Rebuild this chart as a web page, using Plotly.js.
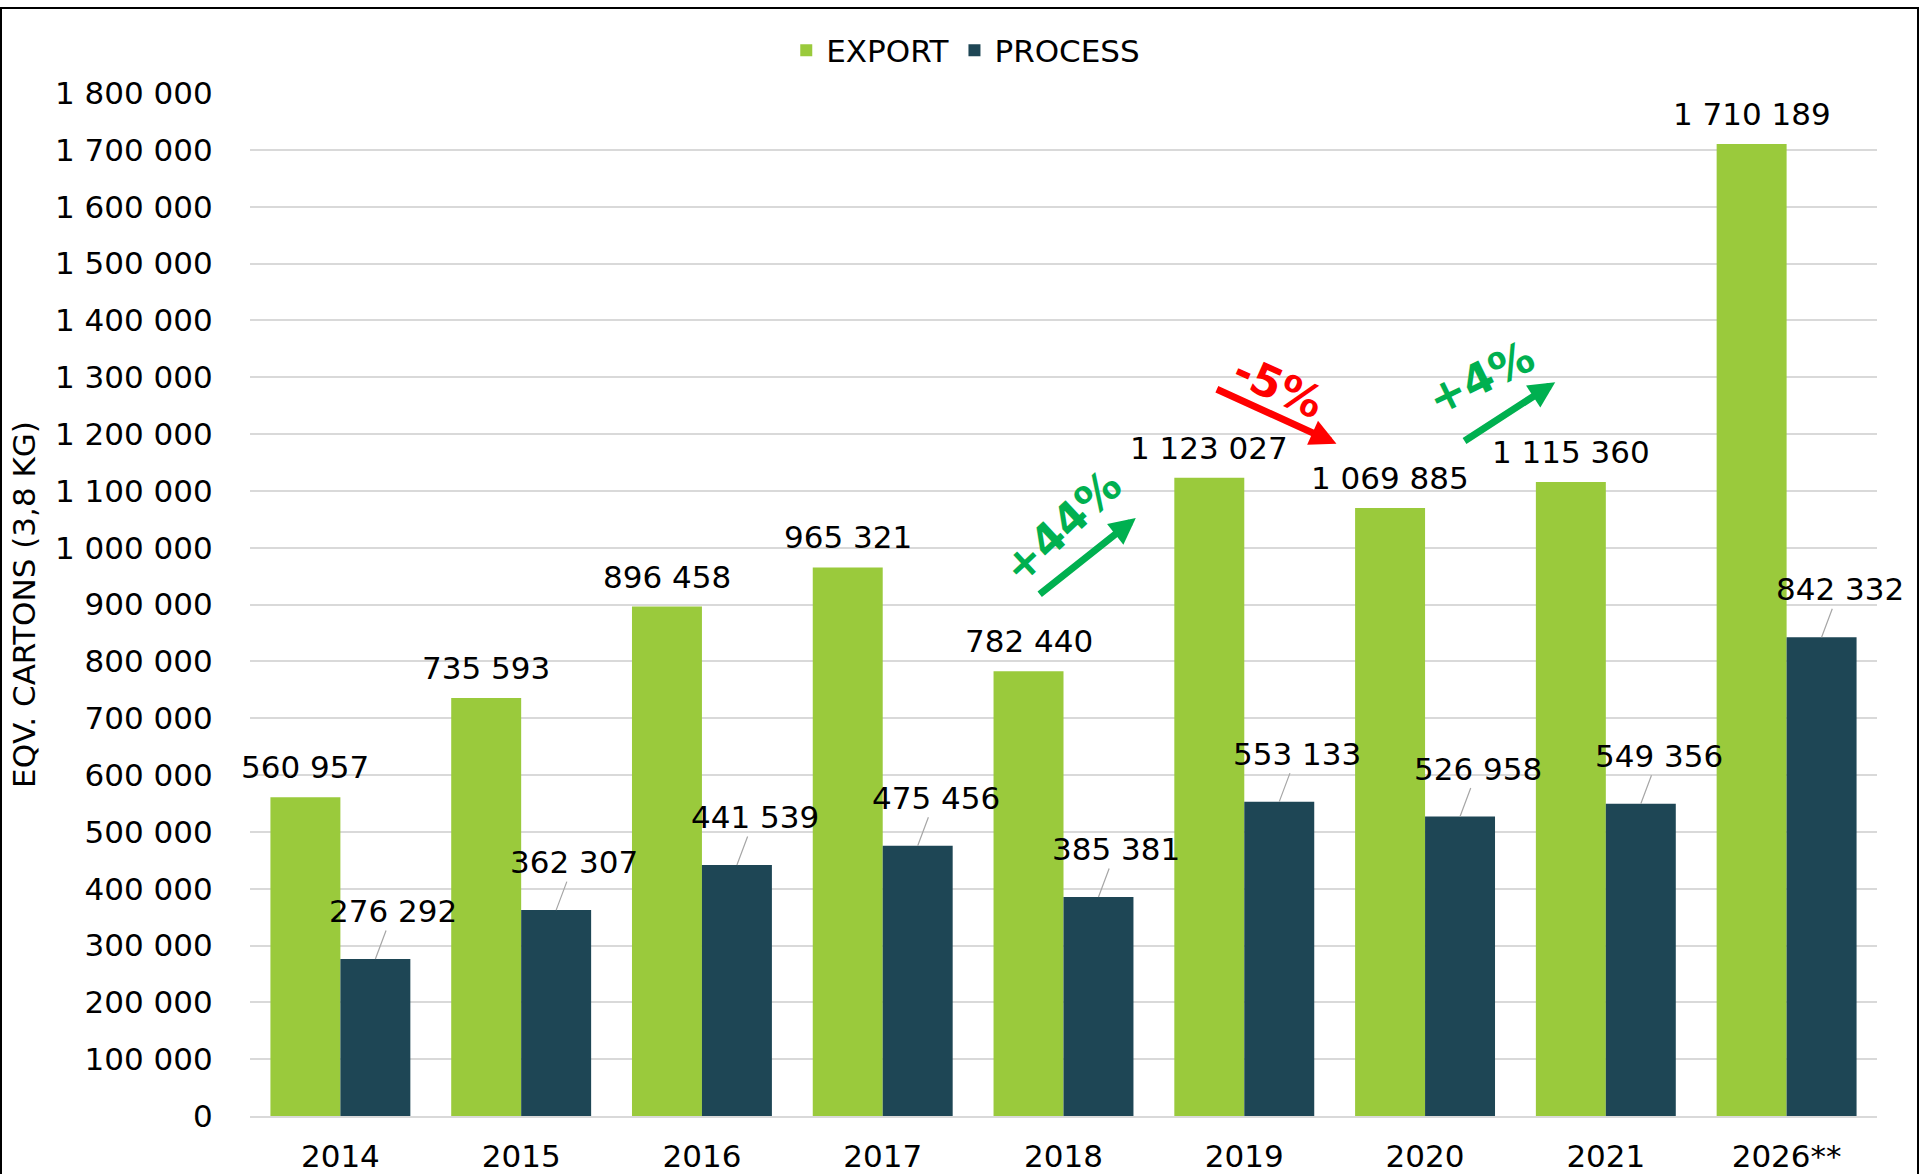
<!DOCTYPE html>
<html>
<head>
<meta charset="utf-8">
<script src="https://cdn.plot.ly/plotly-3.0.1.min.js"></script>
<style>
  html, body { margin: 0; padding: 0; background: #fff; }
  #chart { width: 1920px; height: 1174px; }
</style>
</head>
<body>
<div id="chart"></div>
<script>
// ---- data ----
const categories = ['2014', '2015', '2016', '2017', '2018', '2019', '2020', '2021', '2026**'];
const exportValues = [560957, 735593, 896458, 965321, 782440, 1123027, 1069885, 1115360, 1710189];
const processValues = [276292, 362307, 441539, 475456, 385381, 553133, 526958, 549356, 842332];
const seriesNames = ['EXPORT', 'PROCESS'];
const yAxisTitle = 'EQV. CARTONS (3,8 KG)';

// change markers
const changeLabels = ['+44%', '-5%', '+4%'];
const changeColors = ['#00B050', '#FF0000', '#00B050'];

// ---- styling ----
const FONT = 'DejaVu Sans, sans-serif';
const GREEN = '#9ACA3C';
const TEAL = '#1E4655';
const bargap = 0.226;
const halfBar = (1 - bargap) / 4;   // offset of each bar centre from category centre

const fmt = v => String(v).replace(/\B(?=(\d{3})+(?!\d))/g, ' ');

const traces = [
  { type: 'bar', name: seriesNames[0], x: categories, y: exportValues,
    marker: { color: GREEN }, hoverinfo: 'x+y' },
  { type: 'bar', name: seriesNames[1], x: categories, y: processValues,
    marker: { color: TEAL }, hoverinfo: 'x+y' }
];

const annotations = [];
categories.forEach((c, i) => {
  annotations.push({
    x: i - halfBar, y: exportValues[i], xref: 'x', yref: 'y',
    text: fmt(exportValues[i]), showarrow: false,
    yanchor: 'bottom', yshift: 10,
    font: { family: FONT, size: 31, color: '#000' }
  });
  annotations.push({
    x: i + halfBar, y: processValues[i], xref: 'x', yref: 'y',
    text: fmt(processValues[i]), showarrow: true,
    arrowhead: 0, arrowwidth: 1.2, arrowcolor: '#A6A6A6',
    ax: 18, ay: -48, standoff: 0,
    font: { family: FONT, size: 31, color: '#000' }
  });
});

// arrows for the change markers (data units: category index, value)
const changeArrows = [
  { tail: [3.86, 916000], head: [4.40, 1052000], text: [3.99, 1037000], angle: -43 },
  { tail: [4.84, 1280000], head: [5.51, 1183000], text: [5.19, 1283000], angle: 24 },
  { tail: [6.21, 1186000], head: [6.72, 1291000], text: [6.31, 1300000], angle: -26 }
];
changeArrows.forEach((a, k) => {
  annotations.push({
    x: a.head[0], y: a.head[1], xref: 'x', yref: 'y',
    ax: a.tail[0], ay: a.tail[1], axref: 'x', ayref: 'y',
    text: '', showarrow: true, arrowhead: 2, arrowsize: 0.75,
    arrowwidth: 7, arrowcolor: changeColors[k], standoff: 0, startstandoff: 0
  });
  annotations.push({
    x: a.text[0], y: a.text[1], xref: 'x', yref: 'y',
    text: '<b>' + changeLabels[k] + '</b>', showarrow: false, textangle: a.angle,
    font: { family: FONT, size: 44, color: changeColors[k] }
  });
});

const layout = {
  width: 1920, height: 1174,
  paper_bgcolor: '#fff', plot_bgcolor: '#fff',
  margin: { l: 250, r: 43, t: 93, b: 58 },
  barmode: 'group', bargap: bargap, bargroupgap: 0,
  separators: ', ',
  font: { family: FONT, color: '#000' },
  showlegend: true,
  legend: {
    orientation: 'h', xref: 'container', yref: 'container',
    x: 0.503, xanchor: 'center', y: 0.957, yanchor: 'middle',
    font: { family: FONT, size: 31, color: '#000' },
    itemclick: false
  },
  xaxis: {
    type: 'category', range: [-0.5, categories.length - 0.5],
    tickfont: { family: FONT, size: 31, color: '#000' },
    ticks: 'outside', ticklen: 12, tickcolor: 'rgba(0,0,0,0)',
    showgrid: false, showline: true, linecolor: '#D9D9D9', linewidth: 2,
    fixedrange: true
  },
  yaxis: {
    range: [0, 1800000], dtick: 100000, tickformat: ',d',
    tickfont: { family: FONT, size: 31, color: '#000' },
    ticks: 'outside', ticklen: 30, tickcolor: 'rgba(0,0,0,0)',
    showgrid: true, gridcolor: '#D9D9D9', gridwidth: 2,
    zeroline: false, showline: false,
    title: { text: yAxisTitle, font: { family: FONT, size: 31, color: '#000' }, standoff: 10 },
    automargin: false, fixedrange: true
  },
  shapes: [
    { type: 'rect', xref: 'paper', yref: 'paper',
      x0: (1 - 250) / 1627, x1: (1918 - 250) / 1627,
      y0: -0.08, y1: (1116 - 8) / 1023,
      line: { color: '#000', width: 2 }, fillcolor: 'rgba(0,0,0,0)' }
  ],
  annotations: annotations
};

Plotly.newPlot('chart', traces, layout, { displayModeBar: false, staticPlot: true });
</script>
</body>
</html>
